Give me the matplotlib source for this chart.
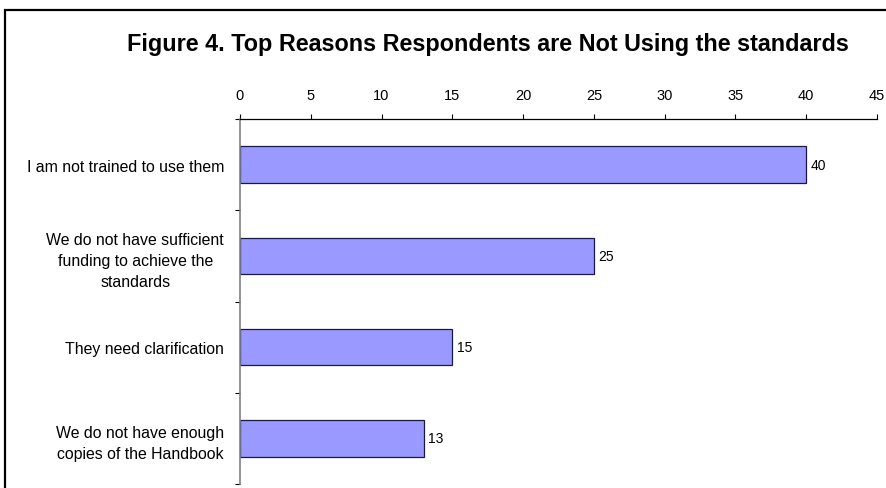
import matplotlib
matplotlib.use('Agg')
import matplotlib.pyplot as plt
from matplotlib.patches import Rectangle

plt.rcParams['font.family'] = ['Liberation Sans', 'DejaVu Sans']

reasons = [
    'I am not trained to use them',
    'We do not have sufficient\nfunding to achieve the\nstandards',
    'They need clarification',
    'We do not have enough\ncopies of the Handbook',
]
counts = [40, 25, 15, 13]
xticks = [0, 5, 10, 15, 20, 25, 30, 35, 40, 45]


def main():
    fig = plt.figure(figsize=(8.87, 4.89), dpi=100)

    # outer frame, runs off the right and bottom edges like the original
    frame = Rectangle((5 / 887, -0.2), 1.2, 1 - 11 / 489 + 0.2,
                      transform=fig.transFigure, fill=False,
                      edgecolor='black', linewidth=1.6, clip_on=False)
    fig.patches.append(frame)

    ax = fig.add_axes([240 / 887, 4 / 489, 637 / 887, 365 / 489])
    pos = list(range(len(reasons)))
    ax.barh(pos, counts, height=0.4, color='#9999FF',
            edgecolor='#1a1a40', linewidth=0.9)

    for p, c in zip(pos, counts):
        ax.text(c + 0.3, p, str(c), va='center', ha='left', fontsize=10)

    ax.set_xlim(0, 45)
    ax.set_ylim(len(reasons) - 0.5, -0.5)
    ax.xaxis.tick_top()
    ax.set_xticks(xticks)
    ax.tick_params(axis='x', direction='out', length=3.6, width=0.8,
                   labelsize=10.5, pad=9)

    # category ticks sit on the boundaries, labels in the middle
    ax.set_yticks([p - 0.5 for p in pos] + [len(pos) - 0.5])
    ax.set_yticklabels([])
    ax.set_yticks(pos, minor=True)
    ax.set_yticklabels(reasons, minor=True, fontsize=11.4,
                       multialignment='center', linespacing=1.5)
    ax.tick_params(axis='y', which='major', direction='out', length=3.6,
                   width=0.8)
    ax.tick_params(axis='y', which='minor', length=0, pad=11.5)

    ax.spines['right'].set_visible(False)
    ax.spines['bottom'].set_visible(False)
    ax.spines['top'].set_linewidth(0.9)
    ax.spines['left'].set_color('#808080')
    ax.spines['left'].set_linewidth(1.2)

    fig.text(488 / 887, 1 - 45 / 489,
             'Figure 4. Top Reasons Respondents are Not Using the standards',
             ha='center', va='center', fontsize=16.8, fontweight='bold')

    fig.savefig('out.png', dpi=100)


if __name__ == '__main__':
    main()
